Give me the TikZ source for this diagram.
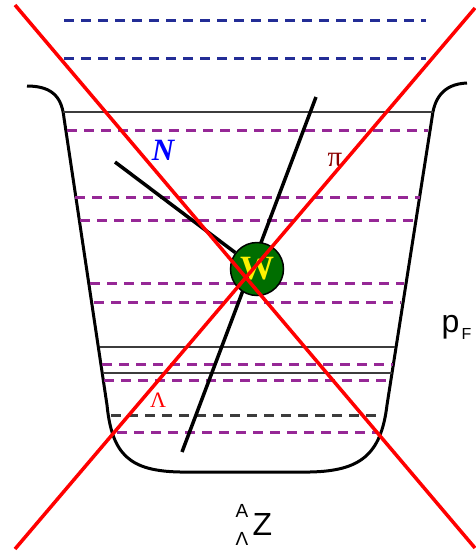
\documentclass[tikz,border=0pt]{standalone}
\usepackage{fontspec}
\setmainfont{Liberation Serif}
\setsansfont{Liberation Sans}
\definecolor{levelblue}{RGB}{35,45,150}
\definecolor{levelpurple}{RGB}{150,40,150}
\definecolor{levelgray}{RGB}{60,60,60}
\definecolor{wgreen}{RGB}{0,110,0}
\definecolor{pired}{RGB}{140,0,0}

\begin{document}
\begin{tikzpicture}[x=1pt,y=-1pt,line width=1pt,
  bluelevel/.style={levelblue,line width=3pt,dash pattern=on 10pt off 7pt},
  purplelevel/.style={levelpurple,line width=3pt,dash pattern=on 10pt off 7pt},
  graylevel/.style={levelgray,line width=3pt,dash pattern=on 10pt off 7pt},
  solidlevel/.style={levelgray,line width=1.5pt},
  track/.style={black,line width=3.5pt},
  cross/.style={red,line width=3.5pt},
  lab/.style={anchor=base,inner sep=0pt}]
\path[use as bounding box] (0,0) rectangle (475,552);
\draw[line width=3pt,line join=round] (27,86) .. controls (55,86) and (62,100) .. (64,118) -- (107,405) .. controls (112,455) and (130,471) .. (180,472) -- (310,472) .. controls (360,471) and (381,455) .. (387,405) -- (432,118) .. controls (434,100) and (442,84) .. (467,83);
\draw[bluelevel] (64,20) -- (426,20);
\draw[bluelevel] (64,58) -- (426,58);
\draw[solidlevel] (63,112) -- (433,112);
\draw[purplelevel] (67,130) -- (428,130);
\draw[purplelevel] (75,197) -- (420,197);
\draw[purplelevel] (80,220) -- (414,220);
\draw[purplelevel] (90,283) -- (404,283);
\draw[purplelevel] (94,302) -- (401,302);
\draw[solidlevel] (100,347) -- (395,347);
\draw[purplelevel] (102,364) -- (393,364);
\draw[solidlevel] (103,373) -- (392,373);
\draw[purplelevel] (104,380) -- (390,380);
\draw[graylevel] (111,415) -- (380,415);
\draw[purplelevel] (117,432) -- (377,432);
\coordinate (piend) at (316,97);
\coordinate (lamend) at (182,452);
\coordinate (nend) at (115,162);
\draw[track] (piend) -- (lamend);
\node[circle,draw,line width=1.5pt,fill=wgreen,minimum size=53pt,inner sep=0pt,text=yellow,font=\fontsize{34}{34}\selectfont\bfseries] (W) at (257,269) {W};
\draw[track] (nend) -- (W);
\node[lab,text=blue,font=\fontsize{31}{31}\selectfont\bfseries\itshape] (N) at (163,160) {N};
\node[lab,text=pired,font=\fontsize{29}{29}\selectfont] (pi) at (335,166) {π};
\node[lab,text=red,font=\fontsize{22}{22}\selectfont] (Lam) at (158,407) {Λ};
\coordinate (c1a) at (15,5);
\coordinate (c1b) at (475,548);
\coordinate (c2a) at (475,8);
\coordinate (c2b) at (15,549);
\draw[cross] (c1a) -- (c1b);
\draw[cross] (c2a) -- (c2b);
\node[lab,anchor=base west,font=\fontsize{32}{32}\selectfont\sffamily] (p) at (441,332) {p};
\node[lab,anchor=base west,font=\fontsize{16}{16}\selectfont\sffamily] (F) at (461,339) {F};
\node[lab,anchor=base west,font=\fontsize{19}{19}\selectfont\sffamily] (A) at (235,517) {A};
\node[lab,anchor=base west,font=\fontsize{19}{19}\selectfont\sffamily] (Asub) at (235,545) {Λ};
\node[lab,anchor=base west,font=\fontsize{32}{32}\selectfont\sffamily] (Z) at (252,535) {Z};
\end{tikzpicture}
\end{document}
